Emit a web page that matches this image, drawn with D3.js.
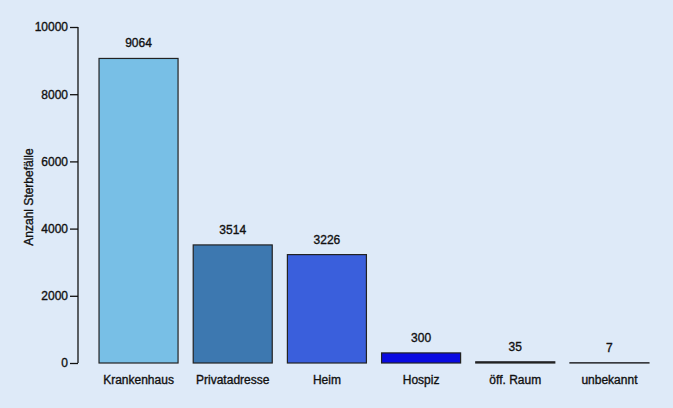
<!DOCTYPE html>
<html><head><meta charset="utf-8">
<script src="https://cdn.jsdelivr.net/npm/d3@7"></script>
<style>
html,body{margin:0;padding:0;background:#deeaf8;}
svg{display:block;font-family:"Liberation Sans",Arial,sans-serif;}
text{stroke:#111;stroke-width:0.35px;}
</style></head>
<body>
<svg id="chart" width="673" height="408"></svg>
<script>
const categories = ["Krankenhaus","Privatadresse","Heim","Hospiz","öff. Raum","unbekannt"];
const values = [9064,3514,3226,300,35,7];
const barColors = ["#78bfe6","#3d78b0","#3a5fdc","#0a0ae0","#2a3a80","#2a3a80"];
const yTicks = [0,2000,4000,6000,8000,10000];
const yTitle = "Anzahl Sterbefälle";

const svg = d3.select("#chart");
const x = d3.scaleBand().domain(categories).range([91.5,656.5]).paddingInner(0.161).paddingOuter(0.08);
const y = d3.scaleLinear().domain([0,10000]).range([363,27]);

const yAxis = svg.append("g").attr("transform","translate(78,0)")
  .call(d3.axisLeft(y).tickValues(yTicks).tickSize(8).tickPadding(2).tickFormat(d3.format("d")));
yAxis.selectAll("path,line").attr("stroke","#111").attr("stroke-width",1.3);
yAxis.select(".domain").attr("d",`M0,${y(10000)}V${y(0)}`);
yAxis.selectAll("text").attr("font-size",12).attr("fill","#111").style("font-family","Liberation Sans, Arial, sans-serif");

svg.append("text").attr("transform","translate(33,197) rotate(-90)")
  .attr("text-anchor","middle").attr("font-size",12).attr("fill","#111").text(yTitle);

svg.selectAll("rect.bar").data(categories).enter().append("rect").attr("class","bar")
  .attr("x",d=>x(d)).attr("width",x.bandwidth())
  .attr("y",(d,i)=>y(values[i])).attr("height",(d,i)=>y(0)-y(values[i]))
  .attr("fill",(d,i)=>barColors[i]).attr("stroke","#222").attr("stroke-width",1.2);

svg.selectAll("text.val").data(categories).enter().append("text").attr("class","val")
  .attr("x",d=>x(d)+x.bandwidth()/2).attr("y",(d,i)=>y(values[i])-11)
  .attr("text-anchor","middle").attr("font-size",12).attr("fill","#111")
  .text((d,i)=>values[i]);

svg.selectAll("text.cat").data(categories).enter().append("text").attr("class","cat")
  .attr("x",d=>x(d)+x.bandwidth()/2).attr("y",384)
  .attr("text-anchor","middle").attr("font-size",12).attr("fill","#111")
  .text(d=>d);
</script>
</body></html>
